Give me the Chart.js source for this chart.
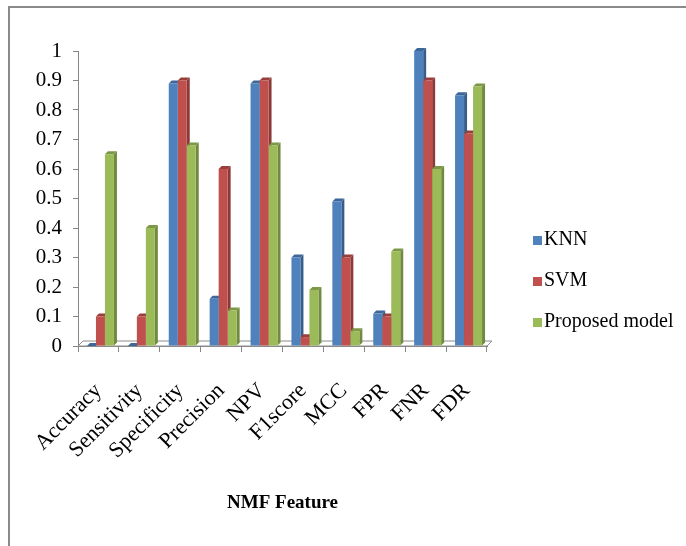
<!DOCTYPE html>
<html>
<head>
<meta charset="utf-8">
<script src="https://cdn.jsdelivr.net/npm/chart.js@4/dist/chart.umd.min.js"></script>
<style>
  html, body { margin: 0; padding: 0; background: #fff; }
  #wrap { position: relative; width: 686px; height: 546px; overflow: hidden; }
  #frame { position: absolute; left: 8px; top: 6px; width: 720px; height: 600px;
           border-top: 2px solid #8a8a8a; border-left: 2px solid #8a8a8a; }
  canvas { position: absolute; left: 0; top: 0; }
</style>
</head>
<body>
<div id="wrap">
  <div id="frame"></div>
  <canvas id="chart" width="686" height="546"></canvas>
</div>
<script>
// Evaluation metrics for the NMF feature set
const categories = ['Accuracy', 'Sensitivity', 'Specificity', 'Precision', 'NPV', 'F1score', 'MCC', 'FPR', 'FNR', 'FDR'];
const knn      = [0.00, 0.00, 0.89, 0.16, 0.89, 0.30, 0.49, 0.11, 1.00, 0.85];
const svm      = [0.10, 0.10, 0.90, 0.60, 0.90, 0.03, 0.30, 0.10, 0.90, 0.72];
const proposed = [0.65, 0.40, 0.68, 0.12, 0.68, 0.19, 0.05, 0.32, 0.60, 0.88];
const seriesNames = ['KNN', 'SVM', 'Proposed model'];
const axisTitle = 'NMF Feature';

// face colours: front, side, top
const frontColors = ['#4F81BD', '#C0504D', '#9BBB59'];
const sideColors  = ['#385D8A', '#8C3A38', '#718A3F'];
const topColors   = ['#3E6799', '#9A3E3B', '#7C9746'];

const SERIF = '"Liberation Serif", "Times New Roman", serif';
const DEPTH = 3;       // bar depth offset
const FLOOR = 5;       // floor depth offset
const SHIFT = 2;       // bars sit slightly right of the category centre

// Draws the floor plus the side and top faces of every bar so they look extruded
const extrude = {
  id: 'extrude',
  beforeDatasetsDraw(chart) {
    const { ctx, chartArea: a } = chart;
    ctx.save();
    ctx.beginPath();
    ctx.moveTo(a.left, a.bottom);
    ctx.lineTo(a.right, a.bottom);
    ctx.lineTo(a.right + FLOOR, a.bottom - FLOOR);
    ctx.lineTo(a.left + FLOOR, a.bottom - FLOOR);
    ctx.closePath();
    ctx.fillStyle = '#ffffff';
    ctx.fill();
    ctx.strokeStyle = '#8c8c8c';
    ctx.lineWidth = 1;
    ctx.stroke();

    ctx.translate(SHIFT, 0);
    const n = chart.data.labels.length;
    for (let i = 0; i < n; i++) {
      chart.data.datasets.forEach((ds, d) => {
        const el = chart.getDatasetMeta(d).data[i];
        const { x, y, base, width } = el.getProps(['x', 'y', 'base', 'width'], true);
        const l = x - width / 2, r = x + width / 2;
        ctx.fillStyle = sideColors[d];
        ctx.beginPath();
        ctx.moveTo(r, y);
        ctx.lineTo(r + DEPTH, y - DEPTH);
        ctx.lineTo(r + DEPTH, base - DEPTH);
        ctx.lineTo(r, base);
        ctx.closePath();
        ctx.fill();
        ctx.fillStyle = topColors[d];
        ctx.beginPath();
        ctx.moveTo(l, y);
        ctx.lineTo(r, y);
        ctx.lineTo(r + DEPTH, y - DEPTH);
        ctx.lineTo(l + DEPTH, y - DEPTH);
        ctx.closePath();
        ctx.fill();
      });
    }
    ctx.restore();
    ctx.save();
    ctx.translate(SHIFT, 0);
  },
  afterDatasetsDraw(chart) {
    chart.ctx.restore();
  }
};

// Legend to the right of the plot
const LEG_X = 533, LEG_BASE = 245, LEG_GAP = 41;
const sideLegend = {
  id: 'sideLegend',
  afterDraw(chart) {
    const ctx = chart.ctx;
    ctx.save();
    ctx.font = '20px ' + SERIF;
    ctx.textBaseline = 'alphabetic';
    chart.data.datasets.forEach((ds, i) => {
      const b = LEG_BASE + i * LEG_GAP;
      ctx.fillStyle = ds.backgroundColor;
      ctx.fillRect(LEG_X, b - 9, 9, 9);
      ctx.fillStyle = '#000';
      ctx.fillText(ds.label, LEG_X + 11, b);
    });
    ctx.restore();
  }
};

const seriesData = [knn, svm, proposed];

new Chart(document.getElementById('chart'), {
  type: 'bar',
  data: {
    labels: categories,
    datasets: seriesNames.map((name, i) => ({
      label: name,
      data: seriesData[i],
      backgroundColor: frontColors[i],
      borderWidth: 0,
      categoryPercentage: 0.66,
      barPercentage: 1.0,
      clip: false
    }))
  },
  options: {
    responsive: false,
    animation: false,
    devicePixelRatio: 1,
    events: [],
    layout: { padding: { top: 51, right: 199, left: 0, bottom: 0 } },
    plugins: {
      legend: { display: false },
      tooltip: { enabled: false },
      title: { display: false }
    },
    scales: {
      x: {
        offset: true,
        grid: { display: true, drawOnChartArea: false, drawTicks: true, tickLength: 6, color: '#868686', offset: true },
        border: { display: true, color: '#868686', width: 1 },
        ticks: {
          minRotation: 45, maxRotation: 45, autoSkip: false, padding: 26,
          color: '#000', font: { family: SERIF, size: 22 }
        },
        title: {
          display: true, text: axisTitle, color: '#000',
          font: { family: SERIF, size: 19, weight: 'bold' },
          padding: { top: 0, bottom: 32 }
        },
        afterFit(s) { s.height = 200; }
      },
      y: {
        min: 0, max: 1,
        grid: { display: true, drawOnChartArea: false, drawTicks: true, tickLength: 5, color: '#868686' },
        border: { display: true, color: '#868686', width: 1 },
        ticks: {
          stepSize: 0.1, padding: 11, color: '#000',
          font: { family: SERIF, size: 21 },
          callback: v => String(Number(v.toFixed(1)))
        },
        afterFit(s) { s.width = 78; }
      }
    }
  },
  plugins: [extrude, sideLegend]
});
</script>
</body>
</html>
